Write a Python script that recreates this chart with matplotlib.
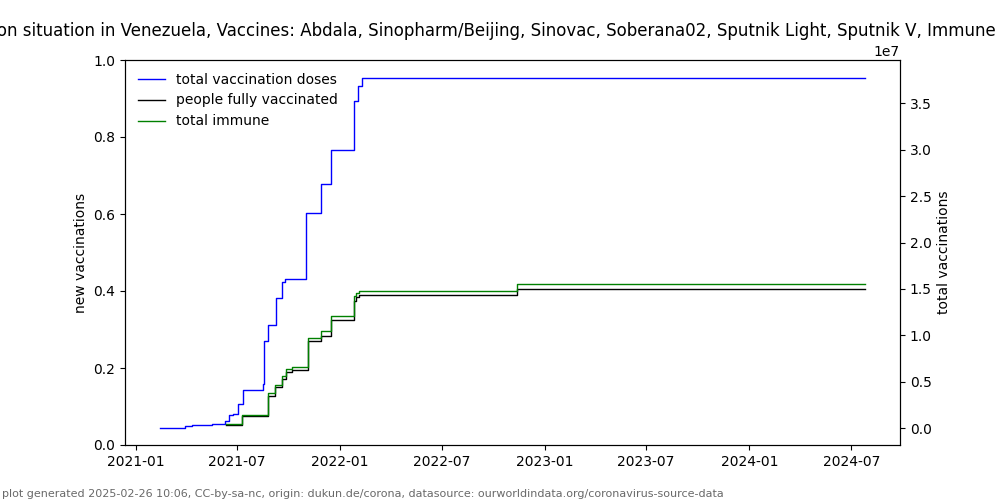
import numpy as np
import pandas as pd
import matplotlib
matplotlib.use("Agg")
import matplotlib.pyplot as plt

# change points (date, value), steps-post
dose_dates = ['2021-02-14', '2021-03-31', '2021-04-11', '2021-05-17', '2021-06-09',
              '2021-06-17', '2021-06-24', '2021-07-02', '2021-07-11', '2021-08-16',
              '2021-08-19', '2021-08-26', '2021-09-08', '2021-09-20', '2021-09-25',
              '2021-11-01', '2021-11-28', '2021-12-16', '2022-01-25', '2022-02-02',
              '2022-02-09', '2024-07-25']
dose_vals = [75e3, 183e3, 323e3, 400e3, 754e3,
             1.40e6, 1.58e6, 2.59e6, 4.09e6, 4.74e6,
             9.41e6, 11.17e6, 14.08e6, 15.77e6, 16.13e6,
             23.14e6, 26.29e6, 29.96e6, 35.27e6, 36.85e6,
             37.79e6, 37.79e6]

full_dates = ['2021-06-11', '2021-07-10', '2021-08-25', '2021-09-07', '2021-09-20',
              '2021-09-26', '2021-10-07', '2021-11-04', '2021-11-28', '2021-12-16',
              '2022-01-25', '2022-01-30', '2022-02-04', '2022-11-13', '2024-07-25']
full_vals = [0.32e6, 1.29e6, 3.45e6, 4.39e6, 5.31e6,
             6.03e6, 6.25e6, 9.38e6, 9.91e6, 11.71e6,
             13.72e6, 14.15e6, 14.33e6, 14.98e6, 14.98e6]
immune_vals = [0.50e6, 1.47e6, 3.74e6, 4.67e6, 5.60e6,
               6.39e6, 6.60e6, 9.77e6, 10.42e6, 12.07e6,
               14.22e6, 14.62e6, 14.80e6, 15.52e6, 15.52e6]

title = ("Vaccination situation in Venezuela, Vaccines: Abdala, Sinopharm/Beijing, Sinovac, "
         "Soberana02, Sputnik Light, Sputnik V, Immune")
footer = ("plot generated 2025-02-26 10:06, CC-by-sa-nc, origin: dukun.de/corona, "
          "datasource: ourworldindata.org/coronavirus-source-data")

fig, ax = plt.subplots(figsize=(10, 5), dpi=100)
ax2 = ax.twinx()

ax2.plot(pd.to_datetime(dose_dates), dose_vals, color='b', lw=1,
         drawstyle='steps-post', label='total vaccination doses')
ax2.plot(pd.to_datetime(full_dates), full_vals, color='k', lw=1,
         drawstyle='steps-post', label='people fully vaccinated')
ax2.plot(pd.to_datetime(full_dates), immune_vals, color='g', lw=1,
         drawstyle='steps-post', label='total immune')

ax.set_xlim(ax2.get_xlim())
ax.set_ylim(0, 1)
ax.set_ylabel('new vaccinations')
ax2.set_ylabel('total vaccinations')
# the long title runs off the left edge in the original
ax.set_title(title, x=1.124, ha='right')
ax2.legend(loc='upper left', frameon=False)

fig.text(0.002, 0.006, footer, fontsize=8, color='dimgray')

fig.savefig('out.png')
